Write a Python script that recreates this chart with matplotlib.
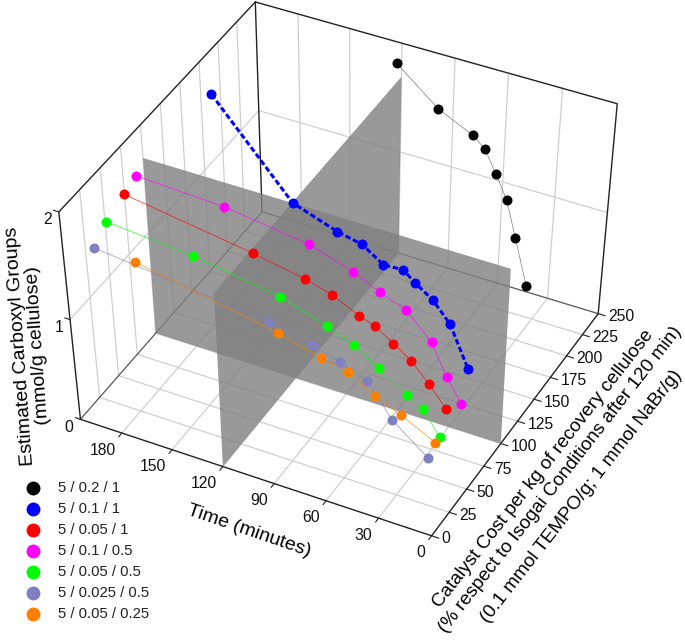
import numpy as np
import matplotlib
matplotlib.use('Agg')
import matplotlib.pyplot as plt
plt.rcParams['font.family'] = ['Liberation Sans', 'DejaVu Sans']

# series: time (min), catalyst cost (%), carboxyl groups (mmol/g)
names = ['5 / 0.2 / 1', '5 / 0.1 / 1', '5 / 0.05 / 1', '5 / 0.1 / 0.5',
         '5 / 0.05 / 0.5', '5 / 0.025 / 0.5', '5 / 0.05 / 0.25']
colors = ['#000000', '#0000ff', '#ff0000', '#ff00ff', '#00ff00', '#8080c0', '#ff8000']

time_k = [115, 91, 71, 64, 57, 50, 44, 36]
cost_k = [230, 230, 230, 230, 230, 230, 230, 230]
carb_k = [1.99, 1.69, 1.54, 1.45, 1.25, 1.03, 0.70, 0.26]

time_b = [168, 124, 99, 85, 73, 62, 55, 45, 35, 24]
cost_b = [110, 110, 110, 110, 110, 110, 110, 110, 110, 110]
carb_b = [2.36, 1.60, 1.46, 1.41, 1.28, 1.29, 1.20, 1.09, 0.91, 0.53]

time_r = [195, 123, 94, 79, 64, 55, 45, 35, 25, 15]
cost_r = [55, 55, 55, 55, 55, 55, 55, 55, 55, 55]
carb_r = [1.77, 1.59, 1.50, 1.43, 1.31, 1.26, 1.15, 1.04, 0.87, 0.68]

time_m = [215, 164, 115, 90, 75, 60, 45, 36, 27]
cost_m = [110, 110, 110, 110, 110, 110, 110, 110, 110]
carb_m = [1.41, 1.37, 1.26, 1.13, 1.01, 0.92, 0.68, 0.39, 0.16]

time_g = [207, 157, 108, 82, 67, 53, 37, 28, 18]
cost_g = [55, 55, 55, 55, 55, 55, 55, 55, 55]
carb_g = [1.46, 1.39, 1.26, 1.12, 1.02, 0.87, 0.69, 0.61, 0.38]

time_p = [197, 99, 75, 60, 45, 31, 11]
cost_p = [20, 20, 20, 20, 20, 20, 20]
carb_p = [1.55, 1.37, 1.28, 1.20, 1.10, 0.80, 0.54]

time_o = [179, 99, 75, 60, 45, 30, 11]
cost_o = [30, 30, 30, 30, 30, 30, 30]
carb_o = [1.43, 1.18, 1.07, 1.02, 0.87, 0.76, 0.60]

time_ticks = [180, 150, 120, 90, 60, 30, 0]
cost_ticks = [0, 25, 50, 75, 100, 125, 150, 175, 200, 225, 250]
carb_ticks = [0, 1, 2]
t_max, c_max, z_max = 205, 250, 2.0
plane_cost, plane_time, plane_top = 100, 120, 1.7
cost_label = ['Catalyst Cost per kg of recovery cellulose',
              '(% respect to Isogai Conditions after 120 min)',
              '(0.1 mmol TEMPO/g; 1 mmol NaBr/g)']

# camera: fit a projective matrix from where the box corners sit on the canvas
box3d = np.array([(205, 0, 0), (0, 0, 0), (0, 250, 0), (205, 250, 0), (205, 0, 2), (205, 250, 2), (0, 250, 2),
                  (205, 0, 1), (205, 250, 1), (0, 250, 1), (120, 0, 0), (60, 0, 0), (0, 100, 0), (0, 175, 0)], float)
boxpx = np.array([(81, 419), (431, 535), (597, 313), (262, 212), (59, 212), (256, 1), (617, 104),
                  (70, 320), (258, 111), (607, 213), (223, 466), (324, 502), (503, 443), (552, 378)], float)
scale3d = np.array([t_max, c_max, z_max])
rows = []
for p, q in zip(box3d / scale3d, boxpx / 600):
    h = np.array([*p, 1])
    rows.append([*h, 0, 0, 0, 0, *(-q[0] * h)])
    rows.append([0, 0, 0, 0, *h, *(-q[1] * h)])
P = np.linalg.svd(np.array(rows))[2][-1].reshape(3, 4)


def proj(t, c, z):
    t, c, z = np.broadcast_arrays(np.asarray(t, float), np.asarray(c, float), np.asarray(z, float))
    v = P @ np.vstack([t.ravel() / t_max, c.ravel() / c_max, z.ravel() / z_max, np.ones(t.size)])
    return v[0] / v[2] * 600, v[1] / v[2] * 600


def line3d(t, c, z, **kw):
    x, y = proj(t, c, z)
    ax.plot(x, y, **kw)


fig = plt.figure(figsize=(6.85, 6.44), dpi=100)
ax = fig.add_axes([0, 0, 1, 1])
ax.set_xlim(0, 685)
ax.set_ylim(644, 0)
ax.axis('off')

grid = dict(color='#cfcfcf', lw=0.9, zorder=1)
for t in time_ticks[:-1]:
    line3d([t, t], [0, c_max], [0, 0], **grid)
    line3d([t, t], [c_max, c_max], [0, z_max], **grid)
for c in cost_ticks[1:-1]:
    line3d([0, t_max], [c, c], [0, 0], **grid)
    line3d([t_max, t_max], [c, c], [0, z_max], **grid)
line3d([t_max, t_max, 0], [0, c_max, c_max], [1, 1, 1], **grid)

edge = dict(color='#222222', lw=1.0, zorder=2)
line3d([t_max, 0, 0], [0, 0, c_max], [0, 0, 0], **edge)
line3d([t_max, t_max, 0], [0, c_max, c_max], [0, 0, 0], color='#555555', lw=0.9, zorder=2)
line3d([t_max, t_max, t_max, 0, 0], [0, 0, c_max, c_max, c_max], [0, z_max, z_max, z_max, 0], **edge)
line3d([t_max, t_max], [c_max, c_max], [0, z_max], **edge)

# ticks and their labels
for t in time_ticks:
    line3d([t, t], [0, -4], [0, 0], color='#222222', lw=0.8, zorder=2)
    x, y = proj(t, 0, 0)
    ax.text(x[0] - 6, y[0] + 17, str(t), ha='right', va='center', fontsize=11.3, color='#111111')
for c in cost_ticks:
    line3d([0, -4], [c, c], [0, 0], color='#222222', lw=0.8, zorder=2)
    x, y = proj(0, c, 0)
    ax.text(x[0] + 10, y[0] + 3, str(c), ha='left', va='center', fontsize=11.3, color='#111111')
for z in carb_ticks:
    line3d([t_max, t_max + 3], [0, 0], [z, z], color='#222222', lw=0.8, zorder=2)
    x, y = proj(t_max, 0, z)
    ax.text(x[0] - 7, y[0] + 8, str(z), ha='right', va='center', fontsize=11.3, color='#111111')

# the two grey planes
xa, ya = proj([t_max, t_max, 0, 0], plane_cost, [0, plane_top, plane_top, 0])
ax.fill(xa, ya, color='#808080', alpha=0.8, lw=0, zorder=3)
xb, yb = proj(plane_time, [0, 0, c_max, c_max], [0, plane_top, plane_top, 0])
ax.fill(xb, yb, color='#808080', alpha=0.8, lw=0, zorder=3)

series = [(time_k, cost_k, carb_k), (time_b, cost_b, carb_b), (time_r, cost_r, carb_r), (time_m, cost_m, carb_m),
          (time_g, cost_g, carb_g), (time_p, cost_p, carb_p), (time_o, cost_o, carb_o)]
for i, (tt, cc, zz) in enumerate(series):
    x, y = proj(tt, cc, zz)
    if i == 1:
        ax.plot(x, y, color=colors[i], lw=2.2, ls=(0, (1.8, 0.9)), dash_capstyle='butt', zorder=4)
    else:
        ax.plot(x, y, color='#666666' if i == 0 else colors[i], lw=0.5, alpha=0.85, zorder=4)
    ax.plot(x, y, ls='none', marker='o', ms=7.2, mfc=colors[i], mec='none', zorder=5)
    # legend
    ly = 488 + i * 21
    ax.plot([33], [ly], marker='o', ms=10, mfc=colors[i], mec='none', zorder=5)
    ax.text(58, ly, names[i], ha='left', va='center', fontsize=10.7, color='#222222')

ax.text(29, 346, 'Estimated Carboxyl Groups\n(mmol/g cellulose)', rotation=94, ha='center', va='center',
        fontsize=14, multialignment='center', linespacing=1.05)
ax.text(249, 531, 'Time (minutes)', rotation=-19, ha='center', va='center', fontsize=14)
for txt, cx, cy in zip(cost_label, [543, 560, 581], [469, 480, 496]):
    ax.text(cx, cy, txt, rotation=52, ha='center', va='center', fontsize=13.7)

plt.savefig('out.png', dpi=100)
